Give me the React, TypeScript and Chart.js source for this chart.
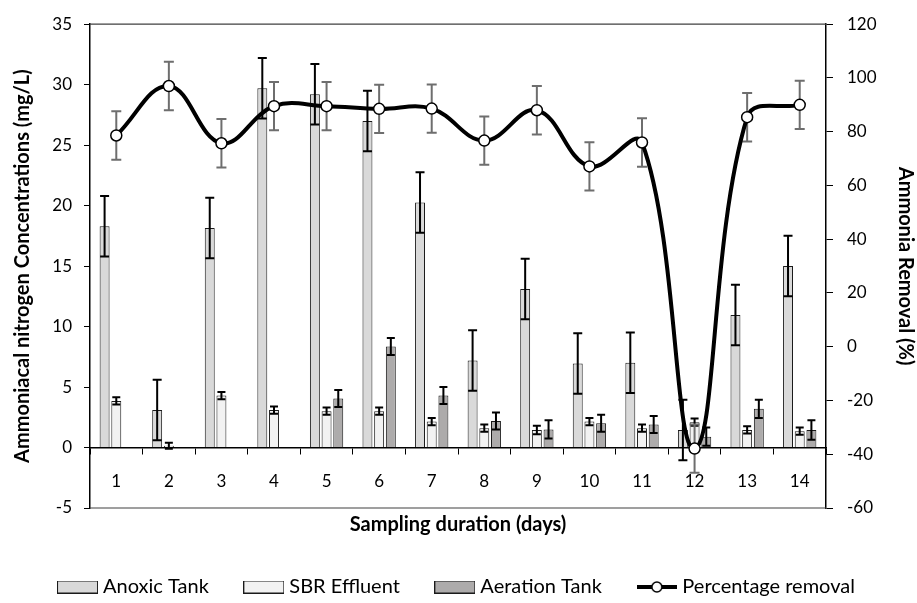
import React, { useEffect, useRef } from 'react';
import { Chart, registerables } from 'chart.js';

Chart.register(...registerables);

// ---- Data ----
const days = ['1', '2', '3', '4', '5', '6', '7', '8', '9', '10', '11', '12', '13', '14'];

const anoxic = [18.3, 3.1, 18.15, 29.7, 29.2, 27.0, 20.25, 7.2, 13.1, 6.95, 7.0, 1.45, 10.95, 15.0];
const anoxicErr = [2.5, 2.5, 2.5, 2.5, 2.5, 2.5, 2.5, 2.5, 2.5, 2.5, 2.5, 2.5, 2.5, 2.5];

const sbr = [3.85, 0.15, 4.3, 3.1, 3.0, 3.0, 2.15, 1.6, 1.45, 2.15, 1.6, 2.1, 1.45, 1.35];
const sbrErr = [0.3, 0.25, 0.3, 0.3, 0.3, 0.3, 0.3, 0.3, 0.35, 0.3, 0.3, 0.3, 0.3, 0.3];

const aeration = [null, null, null, null, 4.05, 8.35, 4.3, 2.2, 1.5, 2.0, 1.9, 0.9, 3.2, 1.45];
const aerationErr = [null, null, null, null, 0.7, 0.7, 0.7, 0.7, 0.75, 0.7, 0.7, 0.75, 0.75, 0.8];

const removal = [78.6, 97.0, 75.7, 89.5, 89.5, 88.5, 88.6, 76.7, 88.0, 67.1, 76.0, -37.9, 85.4, 90.0];
const removalErr = [9, 9, 9, 9, 9, 9, 9, 9, 9, 9, 9, 9, 9, 9];

const leftAxis = { min: -5, max: 35, step: 5 };
const rightAxis = { min: -60, max: 120, step: 20 };

const FONT = 'Lato';

function drawErrorBars(chart: any, index: number) {
  const ds = chart.data.datasets[index];
  const errs = ds.errors;
  if (!errs) return;
  const meta = chart.getDatasetMeta(index);
  const scale = chart.scales[meta.yAxisID];
  const ctx = chart.ctx;
  ctx.save();
  ctx.strokeStyle = ds.errorColor;
  ctx.lineWidth = ds.errorWidth;
  const cap = ds.errorCap;
  meta.data.forEach((el: any, j: number) => {
    const v = ds.data[j];
    const e = errs[j];
    if (v == null || e == null) return;
    const x = el.x;
    const y1 = scale.getPixelForValue(v + e);
    const y2 = scale.getPixelForValue(v - e);
    ctx.beginPath();
    ctx.moveTo(x, y1);
    ctx.lineTo(x, y2);
    ctx.moveTo(x - cap, y1);
    ctx.lineTo(x + cap, y1);
    ctx.moveTo(x - cap, y2);
    ctx.lineTo(x + cap, y2);
    ctx.stroke();
  });
  ctx.restore();
}

const errorBarPlugin = {
  id: 'errorBars',
  beforeDatasetDraw(chart: any, args: any) {
    if (args.meta.type === 'line') drawErrorBars(chart, args.index);
  },
  afterDatasetDraw(chart: any, args: any) {
    if (args.meta.type === 'bar') drawErrorBars(chart, args.index);
  },
};

const framePlugin = {
  id: 'frame',
  beforeDatasetsDraw(chart: any) {
    const { ctx, chartArea } = chart;
    ctx.save();
    ctx.strokeStyle = '#404040';
    ctx.lineWidth = 1.2;
    ctx.beginPath();
    ctx.moveTo(chartArea.left, chartArea.top);
    ctx.lineTo(chartArea.right, chartArea.top);
    ctx.moveTo(chartArea.left, chartArea.bottom);
    ctx.lineTo(chartArea.right, chartArea.bottom);
    ctx.stroke();
    ctx.restore();
  },
};

function makeBoxMarker(fill: string) {
  const c = document.createElement('canvas');
  c.width = 41;
  c.height = 13;
  const g = c.getContext('2d')!;
  g.fillStyle = fill;
  g.fillRect(0.5, 0.5, 40, 12);
  g.strokeStyle = '#1a1a1a';
  g.lineWidth = 1;
  g.strokeRect(0.5, 0.5, 40, 12);
  return c;
}

function makeLineMarker() {
  const c = document.createElement('canvas');
  c.width = 40;
  c.height = 14;
  const g = c.getContext('2d')!;
  g.strokeStyle = '#000';
  g.lineWidth = 4;
  g.beginPath();
  g.moveTo(0, 7);
  g.lineTo(40, 7);
  g.stroke();
  g.beginPath();
  g.arc(20, 7, 5, 0, Math.PI * 2);
  g.fillStyle = '#fff';
  g.fill();
  g.lineWidth = 1.5;
  g.stroke();
  return c;
}

export default function App() {
  const ref = useRef<HTMLCanvasElement | null>(null);

  useEffect(() => {
    if (!ref.current) return;

    const lineMarker = makeLineMarker();

    const chart = new Chart(ref.current, {
      type: 'bar',
      data: {
        labels: days,
        datasets: [
          {
            label: 'Anoxic Tank',
            data: anoxic,
            backgroundColor: '#d9d9d9',
            borderColor: '#1a1a1a',
            borderWidth: 1,
            yAxisID: 'y',
            order: 1,
            categoryPercentage: 0.667,
            barPercentage: 0.85,
            errors: anoxicErr,
            errorColor: '#000',
            errorWidth: 2,
            errorCap: 4.5,
          } as any,
          {
            label: 'SBR Effluent',
            data: sbr,
            backgroundColor: '#f2f2f2',
            borderColor: '#1a1a1a',
            borderWidth: 1,
            yAxisID: 'y',
            order: 1,
            categoryPercentage: 0.667,
            barPercentage: 0.85,
            errors: sbrErr,
            errorColor: '#000',
            errorWidth: 2,
            errorCap: 4,
          } as any,
          {
            label: 'Aeration Tank',
            data: aeration,
            backgroundColor: '#adabab',
            borderColor: '#1a1a1a',
            borderWidth: 1,
            yAxisID: 'y',
            order: 1,
            categoryPercentage: 0.667,
            barPercentage: 0.85,
            errors: aerationErr,
            errorColor: '#000',
            errorWidth: 2,
            errorCap: 4,
          } as any,
          {
            type: 'line',
            label: 'Percentage removal',
            data: removal,
            borderColor: '#000',
            borderWidth: 4,
            backgroundColor: '#fff',
            pointRadius: 5.5,
            pointBackgroundColor: '#fff',
            pointBorderColor: '#000',
            pointBorderWidth: 1.5,
            tension: 0.4,
            fill: false,
            yAxisID: 'y1',
            order: 0,
            errors: removalErr,
            errorColor: '#6e6e6e',
            errorWidth: 2,
            errorCap: 5,
          } as any,
        ],
      },
      options: {
        responsive: false,
        animation: false,
        devicePixelRatio: 1,
        layout: { padding: { top: 20, bottom: -4, left: 0, right: 0 } },
        font: { family: FONT },
        plugins: {
          tooltip: { enabled: false },
          legend: {
            position: 'bottom',
            labels: {
              usePointStyle: true,
              pointStyleWidth: 31,
              boxHeight: 12,
              padding: 39.5,
              color: '#000',
              font: { family: FONT, size: 20 },
              generateLabels: (c: any) =>
                c.data.datasets.map((ds: any, i: number) => ({
                  text: ds.label,
                  datasetIndex: i,
                  fillStyle: ds.backgroundColor,
                  strokeStyle: '#1a1a1a',
                  lineWidth: 1,
                  pointStyle: ds.type === 'line' ? lineMarker : makeBoxMarker(ds.backgroundColor),
                  hidden: false,
                  fontColor: '#000',
                })),
            },
          },
        },
        scales: {
          x: {
            type: 'category',
            position: { y: 0 } as any,
            offset: true,
            grid: {
              offset: true,
              drawOnChartArea: false,
              drawTicks: true,
              tickLength: 6,
              color: '#000',
            },
            border: { color: '#000', width: 1.5 },
            ticks: { padding: 18, color: '#000', font: { family: FONT, size: 17 }, maxRotation: 0 },
          },
          x2: {
            type: 'category',
            axis: 'x',
            position: 'bottom',
            grid: { display: false, drawTicks: false },
            border: { display: false },
            ticks: { display: false },
            title: {
              display: true,
              text: 'Sampling duration (days)',
              color: '#000',
              font: { family: FONT, size: 20, weight: 'bold' },
              padding: { top: 4.4, bottom: 1.1 },
            },
          } as any,
          y: {
            type: 'linear',
            position: 'left',
            min: leftAxis.min,
            max: leftAxis.max,
            ticks: { stepSize: leftAxis.step, padding: 12, color: '#000', font: { family: FONT, size: 17 } },
            grid: { drawOnChartArea: false, drawTicks: true, tickLength: 6, color: '#000' },
            border: { color: '#000', width: 1.5 },
            title: {
              display: true,
              text: 'Ammoniacal nitrogen Concentrations (mg/L)',
              color: '#000',
              font: { family: FONT, size: 20, weight: 'bold' },
              padding: { top: 10.5, bottom: 0 },
            },
            afterFit: (s: any) => {
              s.width = 90;
            },
          },
          y1: {
            type: 'linear',
            position: 'right',
            min: rightAxis.min,
            max: rightAxis.max,
            ticks: { stepSize: rightAxis.step, padding: 14, color: '#000', font: { family: FONT, size: 17 } },
            grid: { drawOnChartArea: false, drawTicks: true, tickLength: 7, color: '#000' },
            border: { color: '#000', width: 1.5 },
            title: {
              display: true,
              text: 'Ammonia Removal (%)',
              color: '#000',
              font: { family: FONT, size: 20, weight: 'bold' },
              padding: { top: 0, bottom: 0 },
            },
            afterFit: (s: any) => {
              s.width = 91;
            },
          },
        },
      } as any,
      plugins: [errorBarPlugin, framePlugin],
    });

    return () => chart.destroy();
  }, []);

  return (
    <div style={{ position: 'fixed', left: 0, top: 0, width: 917, height: 603, background: '#fff' }}>
      <canvas ref={ref} width={917} height={603} />
    </div>
  );
}
